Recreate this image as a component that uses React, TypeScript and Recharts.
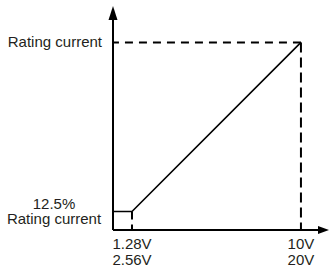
import React from 'react';
import { LineChart, Line, XAxis, YAxis, ReferenceLine, ReferenceDot } from 'recharts';

// main characteristic: output current (% of rating) vs control voltage (10V scale)
const volts = [0, 1.28, 10];
const currentPct = [12.5, 12.5, 100];

const xTicks = [1.28, 10];
const xTickTop = ['1.28V', '10V'];
const xTickBottom = ['2.56V', '20V'];

const yTicks = [12.5, 100];
const yTickLines = [['12.5%', 'Rating current'], ['Rating current']];

// schematic axes: the drawing is not to scale, domains tuned to the picture
const X_DOMAIN: [number, number] = [0.3, 10.88];
const Y_DOMAIN: [number, number] = [2.9, 111.6];

const data = volts.map((v, i) => ({ v, pct: currentPct[i] }));

const FONT = '"Liberation Sans", Arial, sans-serif';
const TEXT = '#231f20';

const XTick = (props: any) => {
  const { x, y, index } = props;
  return (
    <g>
      <text x={x} y={y + 19} textAnchor="middle" fontSize={15} fontFamily={FONT} fill={TEXT}>
        {xTickTop[index]}
      </text>
      <text x={x} y={y + 34.5} textAnchor="middle" fontSize={15} fontFamily={FONT} fill={TEXT}>
        {xTickBottom[index]}
      </text>
    </g>
  );
};

const YTick = (props: any) => {
  const { x, y, index } = props;
  const lines = yTickLines[index] || [];
  if (lines.length === 1) {
    return (
      <text x={x - 11} y={y + 5} textAnchor="end" fontSize={15} fontFamily={FONT} fill={TEXT}>
        {lines[0]}
      </text>
    );
  }
  return (
    <g>
      <text x={x - 59} y={y - 2.5} textAnchor="middle" fontSize={15} fontFamily={FONT} fill={TEXT}>
        {lines[0]}
      </text>
      <text x={x - 59} y={y + 13} textAnchor="middle" fontSize={15} fontFamily={FONT} fill={TEXT}>
        {lines[1]}
      </text>
    </g>
  );
};

const ArrowRight = ({ cx, cy }: any) => (
  <polygon points={`${cx},${cy - 4} ${cx + 11},${cy} ${cx},${cy + 4}`} fill="#000" />
);

const ArrowUp = ({ cx, cy }: any) => (
  <polygon points={`${cx - 4.5},${cy} ${cx},${cy - 14} ${cx + 4.5},${cy}`} fill="#000" />
);

export default function App() {
  return (
    <div style={{ position: 'absolute', left: 0, top: 0, width: 330, height: 267, background: '#fff' }}>
      <LineChart width={330} height={267} data={data} margin={{ top: 20, right: 12, bottom: 7, left: 0 }}>
        <XAxis
          dataKey="v"
          type="number"
          domain={X_DOMAIN}
          allowDataOverflow
          ticks={xTicks}
          interval={0}
          tick={<XTick />}
          tickLine={false}
          tickSize={0}
          tickMargin={0}
          height={30}
          axisLine={{ stroke: '#000', strokeWidth: 2 }}
        />
        <YAxis
          type="number"
          domain={Y_DOMAIN}
          allowDataOverflow
          ticks={yTicks}
          interval={0}
          tick={<YTick />}
          tickLine={false}
          tickSize={0}
          tickMargin={0}
          width={113}
          axisLine={{ stroke: '#000', strokeWidth: 2 }}
        />
        <ReferenceLine
          segment={[{ x: 10, y: 100 }, { x: 0, y: 100 }]}
          stroke="#000"
          strokeWidth={2}
          strokeDasharray="8 6"
          ifOverflow="hidden"
        />
        <ReferenceLine
          segment={[{ x: 10, y: 100 }, { x: 10, y: 0 }]}
          stroke="#000"
          strokeWidth={2}
          strokeDasharray="10 5"
          ifOverflow="hidden"
        />
        <ReferenceLine
          segment={[{ x: 1.28, y: 12.5 }, { x: 1.28, y: 0 }]}
          stroke="#000"
          strokeWidth={2}
          strokeDasharray="8 5"
          ifOverflow="hidden"
        />
        <Line
          dataKey="pct"
          type="linear"
          stroke="#000"
          strokeWidth={1.6}
          dot={false}
          isAnimationActive={false}
        />
        <ReferenceDot x={X_DOMAIN[1]} y={Y_DOMAIN[0]} ifOverflow="visible" shape={<ArrowRight />} />
        <ReferenceDot x={X_DOMAIN[0]} y={Y_DOMAIN[1]} ifOverflow="visible" shape={<ArrowUp />} />
      </LineChart>
    </div>
  );
}
